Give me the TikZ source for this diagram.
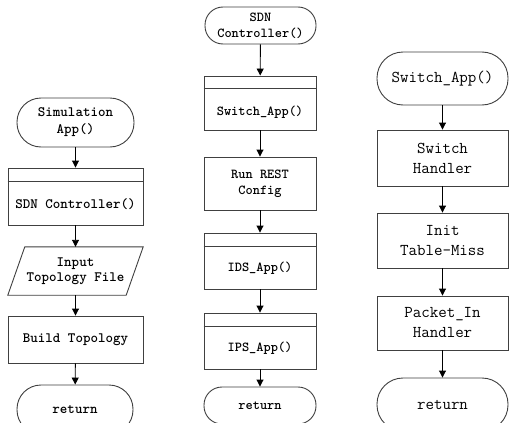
\documentclass[tikz,border=0pt]{standalone}
\usetikzlibrary{arrows.meta,calc}
\begin{document}
\begin{tikzpicture}[x=1pt,y=-1pt,
  box/.style={draw=black!75,line width=0.9pt,rectangle,inner sep=0pt,align=center},
  term/.style={box,rounded corners=#1},
  plain/.style={inner sep=0pt,align=center},
  arr/.style={draw=black,line width=0.9pt,-{Triangle[length=7pt,width=7pt]}},
  lf/.style={font=\ttfamily\bfseries\fontsize{14.3}{17}\selectfont},
  mf/.style={font=\ttfamily\bfseries\fontsize{13.7}{16}\selectfont},
  rf/.style={font=\ttfamily\fontsize{16.5}{20}\selectfont}]
\useasboundingbox (0,0) rectangle (509,423);
\fill[white] (0,0) rectangle (509,423);

% ---------- left column ----------
\node[term=24pt,lf,minimum width=117pt,minimum height=49pt] (sim) at (75.5,122.5) {Simulation\\App()};
\node[box,minimum width=135pt,minimum height=57pt] (s1) at (75.5,196.5) {};
\draw[black!75,line width=0.9pt] ($(s1.north west)+(0,14)$) coordinate (s1a) -- ($(s1.north east)+(0,14)$) coordinate (s1b);
\node[plain,lf] (s1t) at (75.5,204) {SDN Controller()};
\node[plain,lf,minimum width=135pt,minimum height=48pt] (inp) at (75.5,271) {Input\\[-2pt]Topology File};
\draw[black!75,line width=0.9pt] (inp.south west) -- ($(inp.north west)+(17,0)$) -- (inp.north east) -- ($(inp.south east)+(-17,0)$) -- cycle;
\node[box,lf,minimum width=135pt,minimum height=47pt] (build) at (75.5,339.5) {Build Topology};
\node[term=24pt,lf,minimum width=116pt,minimum height=49pt] (ret1) at (75,409.5) {return};
\draw[arr] (sim) -- (s1);
\draw[arr] (s1) -- (inp);
\draw[arr] (inp) -- (build);
\draw[arr] (build) -- (ret1);

% ---------- middle column ----------
\node[term=18pt,mf,minimum width=111pt,minimum height=37pt] (sdn) at (260.5,25.5) {SDN\\Controller()};
\node[box,minimum width=112pt,minimum height=54pt] (s2) at (260,103) {};
\draw[black!75,line width=0.9pt] ($(s2.north west)+(0,13)$) -- ($(s2.north east)+(0,13)$);
\node[plain,mf] (s2t) at (260,112) {Switch\_App()};
\node[box,mf,minimum width=112pt,minimum height=53pt] (rest) at (260,183.5) {Run REST\\Config};
\node[box,minimum width=112pt,minimum height=56pt] (s3) at (260,261) {};
\draw[black!75,line width=0.9pt] ($(s3.north west)+(0,14)$) -- ($(s3.north east)+(0,14)$);
\node[plain,mf] (s3t) at (260,268.5) {IDS\_App()};
\node[box,minimum width=112pt,minimum height=56pt] (s4) at (260,341) {};
\draw[black!75,line width=0.9pt] ($(s4.north west)+(0,14)$) -- ($(s4.north east)+(0,14)$);
\node[plain,mf] (s4t) at (260,348) {IPS\_App()};
\node[term=18pt,mf,minimum width=112pt,minimum height=37pt] (ret2) at (260,405.5) {return};
\draw[arr] (sdn) -- (s2);
\draw[arr] (s2) -- (rest);
\draw[arr] (rest) -- (s3);
\draw[arr] (s3) -- (s4);
\draw[arr] (s4) -- (ret2);

% ---------- right column ----------
\node[term=26pt,rf,minimum width=131pt,minimum height=53pt] (swa) at (442.5,78.5) {Switch\_App()};
\node[box,rf,minimum width=131pt,minimum height=56pt] (sh) at (442.5,158) {Switch\\Handler};
\node[box,rf,minimum width=131pt,minimum height=55pt] (itm) at (442.5,240.5) {Init\\Table-Miss};
\node[box,rf,minimum width=131pt,minimum height=54pt] (pih) at (442.5,323) {Packet\_In\\Handler};
\node[term=26pt,rf,minimum width=131pt,minimum height=53pt] (ret3) at (442.5,404.5) {return};
\draw[arr] (swa) -- (sh);
\draw[arr] (sh) -- (itm);
\draw[arr] (itm) -- (pih);
\draw[arr] (pih) -- (ret3);
\end{tikzpicture}
\end{document}
